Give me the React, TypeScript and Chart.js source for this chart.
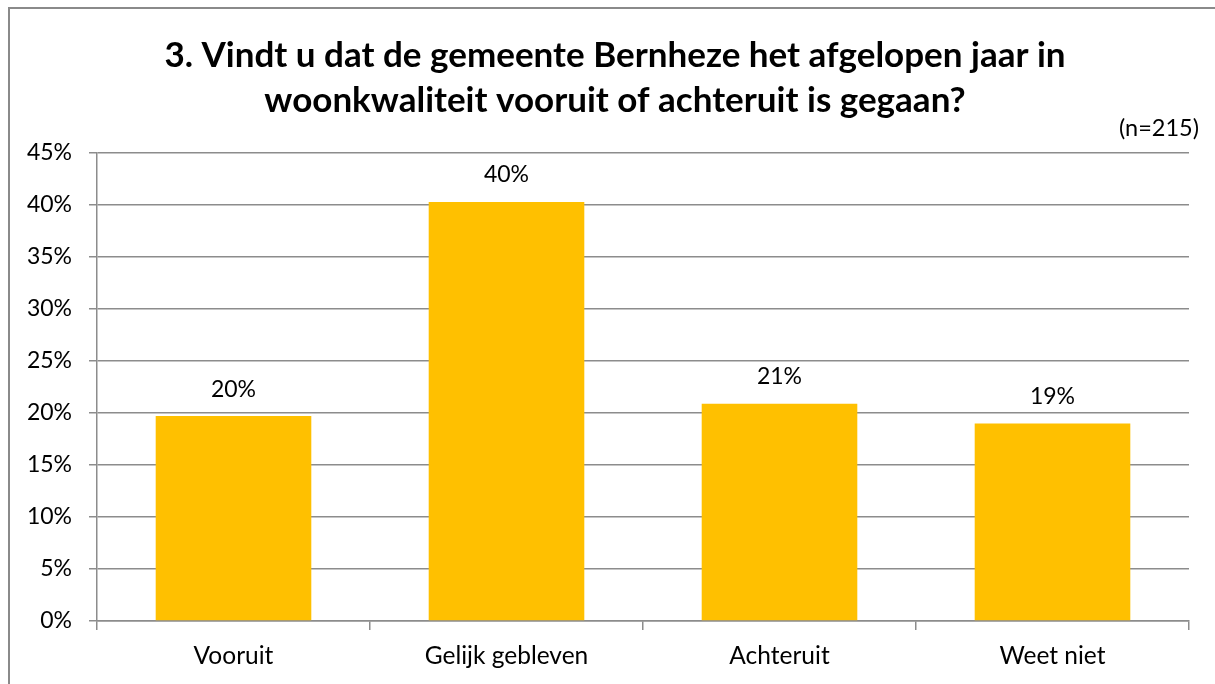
import React, { useEffect, useRef } from "react";
import { Chart, registerables } from "chart.js";

Chart.register(...registerables);

const categories: string[] = ["Vooruit", "Gelijk gebleven", "Achteruit", "Weet niet"];
const values: number[] = [19.7, 40.3, 20.9, 19.0];
const titleLines: string[] = [
  "3. Vindt u dat de gemeente Bernheze het afgelopen jaar in",
  "woonkwaliteit vooruit of achteruit is gegaan?",
];
const sampleNote = "(n=215)";
const yMax = 45;
const yStep = 5;

const FONT = "Lato, 'Open Sans', sans-serif";
const GRID = "#8c8c8c";

const textPlugin = {
  id: "textPlugin",
  afterDatasetsDraw(chart: any) {
    const ctx = chart.ctx;
    const meta = chart.getDatasetMeta(0);
    ctx.save();
    ctx.fillStyle = "#000";
    ctx.font = `23px ${FONT}`;
    ctx.textAlign = "center";
    ctx.textBaseline = "middle";
    meta.data.forEach((bar: any, i: number) => {
      ctx.fillText(Math.round(values[i]) + "%", bar.x, bar.y - 27);
    });
    ctx.restore();
  },
  afterDraw(chart: any) {
    const ctx = chart.ctx;
    ctx.save();
    ctx.fillStyle = "#000";
    ctx.textBaseline = "middle";
    ctx.textAlign = "center";
    ctx.font = `bold 35px ${FONT}`;
    ctx.fillText(titleLines[0], 615, 56);
    ctx.fillText(titleLines[1], 615, 101);
    ctx.font = `23.5px ${FONT}`;
    ctx.textAlign = "right";
    ctx.fillText(sampleNote, 1199, 128);
    ctx.restore();
  },
};

export default function App() {
  const ref = useRef<HTMLCanvasElement | null>(null);
  useEffect(() => {
    if (!ref.current) return;
    const chart = new Chart(ref.current, {
      type: "bar",
      data: {
        labels: categories,
        datasets: [
          {
            data: values,
            backgroundColor: "#FFC000",
            barPercentage: 0.57,
            categoryPercentage: 1,
          },
        ],
      },
      options: {
        responsive: false,
        animation: false,
        layout: { padding: { left: 0, top: 153, right: 26, bottom: 0 } },
        plugins: {
          legend: { display: false },
          tooltip: { enabled: false },
          title: { display: false },
        },
        scales: {
          x: {
            afterFit(scale: any) {
              scale.height = 63;
            },
            grid: {
              offset: true,
              drawOnChartArea: false,
              drawTicks: true,
              tickLength: 9,
              color: GRID,
              lineWidth: 1.5,
            },
            border: { display: true, color: GRID, width: 1.5 },
            ticks: {
              color: "#000",
              font: { family: FONT, size: 24.5 },
              padding: 11,
              maxRotation: 0,
            },
          },
          y: {
            min: 0,
            max: yMax,
            afterFit(scale: any) {
              scale.width = 97;
            },
            grid: {
              color: GRID,
              lineWidth: 1.5,
              drawTicks: true,
              tickLength: 8,
            },
            border: { display: true, color: GRID, width: 1.5 },
            ticks: {
              stepSize: yStep,
              color: "#000",
              font: { family: FONT, size: 23 },
              padding: 17,
              callback: (v: any) => v + "%",
            },
          },
        },
      },
      plugins: [textPlugin],
    });
    return () => chart.destroy();
  }, []);

  return (
    <div
      style={{
        position: "fixed",
        left: 0,
        top: 0,
        width: 1215,
        height: 684,
        overflow: "hidden",
        background: "#fff",
      }}
    >
      <div
        style={{
          position: "absolute",
          left: 8,
          top: 7,
          width: 1400,
          height: 900,
          border: "2px solid #8a8a8a",
        }}
      />
      <canvas
        ref={ref}
        width={1215}
        height={684}
        style={{ position: "absolute", left: 0, top: 0, width: 1215, height: 684 }}
      />
    </div>
  );
}
